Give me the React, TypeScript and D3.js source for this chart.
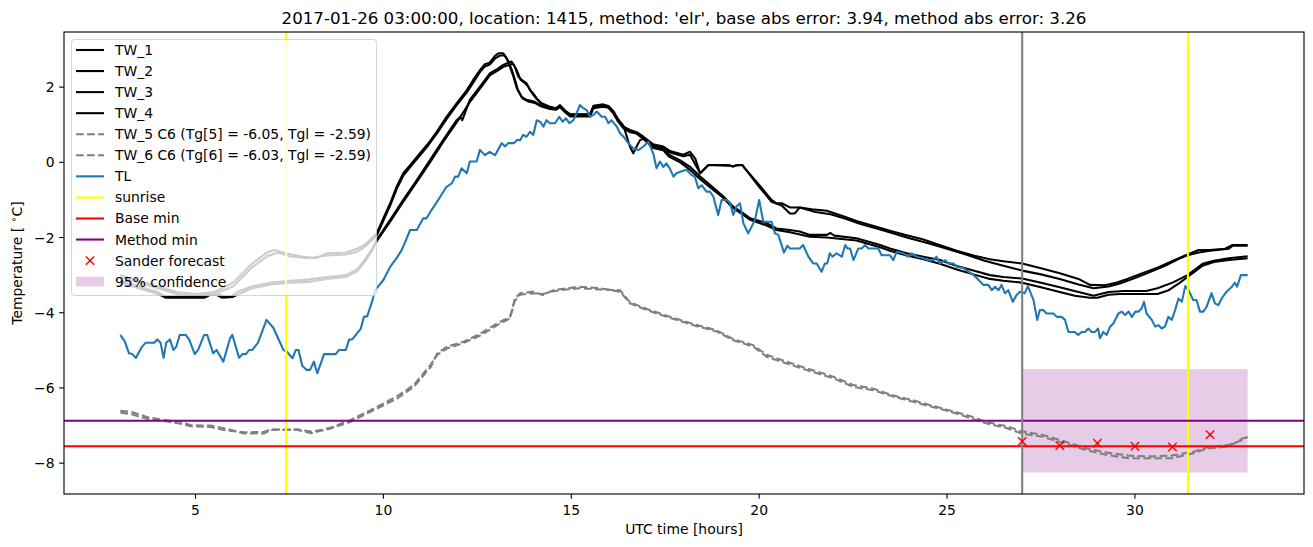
import React from "react";
import * as d3 from "d3";

type P = [number, number];

const titleText =
  "2017-01-26 03:00:00, location: 1415, method: 'elr', base abs error: 3.94, method abs error: 3.26";
const xTicks = [5, 10, 15, 20, 25, 30];
const yTicks = [-8, -6, -4, -2, 0, 2];
const xDomain: P = [1.5, 34.5];
const yDomain: P = [-8.82, 3.465];

const tw1: P[] = [[3,-3.0],[3.5,-3.15],[4,-3.3],[4.5,-3.45],[5,-3.5],[5.5,-3.45],[6,-3.2],[6.5,-2.7],[6.9,-2.4],[7.1,-2.33],[7.4,-2.42],[7.8,-2.5],[8.2,-2.55],[8.5,-2.42],[9.0,-2.4],[9.3,-2.3],[9.5,-2.2],[9.82,-1.89],[10.18,-1.09],[10.35,-0.65],[10.53,-0.29],[10.75,-0.03],[10.97,0.24],[11.2,0.51],[11.42,0.81],[11.68,1.21],[11.95,1.57],[12.22,1.92],[12.39,2.19],[12.57,2.45],[12.7,2.61],[12.83,2.65],[12.97,2.83],[13.06,2.9],[13.19,2.9],[13.28,2.77],[13.37,2.54],[13.46,2.28],[13.55,1.97],[13.68,1.74],[13.81,1.66],[14.03,1.61],[14.17,1.52],[14.43,1.45],[14.6,1.42],[14.7,1.5],[14.85,1.35],[14.97,1.26],[15.5,1.26],[15.59,1.48],[15.85,1.52],[15.99,1.48],[16.12,1.35],[16.25,1.12],[16.39,0.95],[16.56,0.86],[16.74,0.8],[16.92,0.68],[17.18,0.48],[17.45,0.42],[17.63,0.3],[17.98,0.2],[18.16,0.28],[18.3,0.1],[18.43,-0.29],[18.65,-0.07],[19.2,-0.07],[19.3,-0.12],[19.4,-0.07],[19.55,-0.07],[19.62,-0.16],[20.0,-0.6],[20.33,-1.0],[20.46,-1.09],[20.6,-1.09],[20.82,-1.2],[21.08,-1.2],[21.4,-1.25],[21.8,-1.29],[22.2,-1.42],[22.59,-1.56],[23.0,-1.68],[23.48,-1.82],[23.9,-1.93],[24.37,-2.05],[24.8,-2.2],[25.26,-2.35],[25.7,-2.48],[26.14,-2.58],[26.5,-2.63],[27,-2.69],[27.5,-2.82],[28,-2.95],[28.5,-3.1],[28.8,-3.26],[29.2,-3.27],[29.5,-3.2],[29.8,-3.1],[30.2,-2.95],[30.6,-2.8],[31.0,-2.62],[31.4,-2.45],[31.7,-2.33],[32.0,-2.33],[32.4,-2.3],[32.6,-2.2],[33,-2.2]];

const tw2: P[] = [[3,-3.05],[3.5,-3.2],[4,-3.35],[4.5,-3.5],[5,-3.55],[5.5,-3.5],[6,-3.3],[6.5,-2.8],[6.9,-2.5],[7.2,-2.4],[7.5,-2.5],[8.0,-2.55],[8.5,-2.48],[9.0,-2.45],[9.3,-2.38],[9.5,-2.25],[9.82,-1.95],[10.18,-1.15],[10.35,-0.72],[10.53,-0.35],[10.75,-0.08],[10.97,0.18],[11.2,0.46],[11.42,0.76],[11.68,1.15],[11.95,1.52],[12.22,1.86],[12.39,2.12],[12.57,2.4],[12.7,2.55],[12.83,2.6],[12.97,2.76],[13.1,2.84],[13.22,2.84],[13.32,2.7],[13.42,2.45],[13.5,2.2],[13.58,1.92],[13.7,1.7],[13.85,1.62],[14.03,1.58],[14.17,1.5],[14.43,1.42],[14.6,1.4],[14.7,1.47],[14.85,1.32],[14.97,1.22],[15.5,1.22],[15.59,1.44],[15.85,1.48],[15.99,1.45],[16.12,1.3],[16.25,1.08],[16.39,0.9],[16.56,0.8],[16.74,0.78],[16.92,0.64],[17.18,0.44],[17.45,0.38],[17.63,0.26],[17.98,0.16],[18.16,0.2],[18.43,-0.29],[18.65,-0.07],[19.3,-0.1],[19.55,-0.07],[19.62,-0.16],[20.0,-0.65],[20.33,-1.05],[20.6,-1.15],[20.82,-1.36],[20.95,-1.36],[21.08,-1.2],[21.5,-1.32],[21.9,-1.38],[22.3,-1.5],[22.7,-1.64],[23.2,-1.78],[23.6,-1.9],[24.0,-2.02],[24.5,-2.15],[25.0,-2.3],[25.5,-2.45],[26.0,-2.62],[26.5,-2.75],[27,-2.88],[27.5,-2.98],[28,-3.1],[28.5,-3.25],[28.9,-3.35],[29.3,-3.3],[29.6,-3.22],[30.0,-3.08],[30.4,-2.92],[30.8,-2.75],[31.2,-2.55],[31.4,-2.47],[31.7,-2.4],[32.0,-2.35],[32.5,-2.3],[32.6,-2.22],[33,-2.22]];

const tw3: P[] = [[3,-3.15],[3.5,-3.3],[4,-3.45],[4.2,-3.57],[5.2,-3.57],[5.35,-3.5],[5.6,-3.5],[5.75,-3.57],[5.95,-3.57],[6.1,-3.45],[6.5,-3.3],[7,-3.2],[7.5,-3.15],[8.0,-3.12],[8.5,-3.05],[9.0,-3.0],[9.3,-2.85],[9.5,-2.6],[9.7,-2.3],[9.82,-2.07],[10.18,-1.53],[10.53,-1.0],[10.89,-0.47],[11.24,0.06],[11.59,0.59],[11.95,1.12],[12.05,1.2],[12.1,1.12],[12.3,1.66],[12.57,2.01],[12.84,2.37],[13.06,2.5],[13.19,2.59],[13.28,2.63],[13.41,2.68],[13.5,2.54],[13.59,2.28],[13.68,2.19],[13.81,2.1],[13.9,1.92],[13.99,1.83],[14.08,1.7],[14.21,1.57],[14.43,1.48],[14.6,1.44],[14.7,1.52],[14.85,1.36],[14.97,1.28],[15.5,1.28],[15.59,1.5],[15.85,1.54],[15.99,1.5],[16.12,1.36],[16.25,1.14],[16.39,0.97],[16.56,0.42],[16.65,0.24],[16.74,0.42],[16.83,0.59],[16.96,0.64],[17.18,0.42],[17.45,0.37],[17.6,0.2],[17.9,0.05],[18.16,-0.12],[18.43,-0.38],[18.69,-0.6],[19.05,-0.91],[19.31,-1.18],[19.58,-1.36],[19.76,-1.49],[20.2,-1.62],[20.46,-1.76],[20.82,-1.8],[21.08,-1.84],[21.35,-1.93],[21.8,-1.93],[21.9,-1.88],[22.0,-1.95],[22.59,-2.02],[23.22,-2.2],[23.48,-2.29],[23.93,-2.42],[24.37,-2.51],[24.81,-2.6],[25.26,-2.76],[25.7,-2.88],[26.14,-3.0],[26.5,-3.05],[27,-3.09],[27.5,-3.2],[28,-3.32],[28.5,-3.45],[28.9,-3.55],[29.3,-3.45],[29.7,-3.42],[30.3,-3.42],[30.6,-3.35],[31.0,-3.2],[31.4,-3.0],[31.6,-2.85],[31.8,-2.7],[32.1,-2.62],[32.5,-2.55],[33,-2.5]];

const tw4: P[] = [[3,-3.2],[3.5,-3.35],[4,-3.5],[4.2,-3.6],[5.25,-3.6],[5.4,-3.52],[5.55,-3.52],[5.7,-3.6],[6.0,-3.58],[6.2,-3.48],[6.5,-3.35],[7,-3.25],[7.5,-3.2],[8.0,-3.18],[8.5,-3.1],[9.0,-3.05],[9.3,-2.9],[9.5,-2.65],[9.7,-2.35],[9.82,-2.1],[10.18,-1.58],[10.53,-1.05],[10.89,-0.52],[11.24,0.0],[11.59,0.54],[11.95,1.06],[12.3,1.6],[12.57,1.96],[12.84,2.32],[13.06,2.45],[13.19,2.54],[13.32,2.58],[13.45,2.62],[13.55,2.45],[13.65,2.2],[13.75,2.12],[13.85,2.02],[13.95,1.85],[14.1,1.66],[14.21,1.55],[14.43,1.46],[14.6,1.43],[14.7,1.5],[14.85,1.34],[14.97,1.27],[15.5,1.27],[15.59,1.46],[15.85,1.5],[15.99,1.47],[16.12,1.33],[16.25,1.1],[16.39,0.93],[16.56,0.82],[16.74,0.76],[16.92,0.62],[17.18,0.38],[17.45,0.32],[17.6,0.15],[17.9,0.0],[18.16,-0.2],[18.43,-0.45],[18.69,-0.66],[19.05,-0.95],[19.31,-1.22],[19.58,-1.4],[19.76,-1.53],[20.2,-1.68],[20.46,-1.8],[20.82,-1.86],[21.35,-1.98],[21.8,-2.0],[22.59,-2.08],[23.22,-2.26],[23.48,-2.35],[23.93,-2.48],[24.37,-2.58],[24.81,-2.7],[25.26,-2.85],[25.7,-2.98],[26.14,-3.1],[26.5,-3.15],[27,-3.2],[27.5,-3.32],[28,-3.45],[28.4,-3.55],[28.8,-3.6],[29.0,-3.6],[29.3,-3.52],[29.6,-3.5],[30.6,-3.5],[30.9,-3.4],[31.2,-3.2],[31.4,-3.05],[31.6,-2.9],[31.8,-2.75],[32.1,-2.65],[32.5,-2.6],[33,-2.55]];

const tw5: P[] = [[3.0,-6.61],[3.3,-6.64],[3.7,-6.77],[4.16,-6.85],[4.6,-6.9],[4.87,-6.99],[5.4,-7.0],[5.76,-7.07],[6.29,-7.21],[6.82,-7.21],[7.0,-7.12],[7.71,-7.1],[8.07,-7.16],[8.33,-7.12],[8.6,-7.05],[8.86,-6.99],[9.13,-6.9],[9.48,-6.72],[9.93,-6.5],[10.37,-6.28],[10.81,-5.97],[11.26,-5.44],[11.43,-5.08],[11.7,-4.9],[12.14,-4.77],[12.59,-4.55],[13.03,-4.28],[13.37,-4.11],[13.5,-3.62],[13.64,-3.48],[13.99,-3.44],[14.24,-3.53],[14.52,-3.4],[14.88,-3.35],[15.23,-3.31],[15.76,-3.35],[16.3,-3.44],[16.56,-3.75],[17.01,-3.93],[17.54,-4.11],[18.25,-4.33],[18.87,-4.5],[19.31,-4.73],[19.84,-4.9],[20.2,-5.17],[20.73,-5.35],[21.26,-5.52],[21.97,-5.74],[22.5,-5.97],[23.04,-6.06],[23.57,-6.23],[24.1,-6.37],[24.6,-6.5],[25.08,-6.63],[25.65,-6.81],[26.03,-6.94],[26.6,-7.07],[26.98,-7.21],[27.55,-7.3],[28.12,-7.47],[28.69,-7.65],[29.26,-7.78],[29.83,-7.87],[30.4,-7.87],[30.97,-7.87],[31.54,-7.74],[31.92,-7.61],[32.49,-7.56],[32.87,-7.34],[33.0,-7.3]];

const tw6: P[] = [[3.0,-6.66],[3.3,-6.7],[3.7,-6.82],[4.16,-6.88],[4.6,-6.95],[4.87,-7.02],[5.4,-7.04],[5.76,-7.12],[6.29,-7.18],[6.82,-7.17],[7.0,-7.1],[7.71,-7.12],[8.07,-7.2],[8.33,-7.14],[8.6,-7.08],[8.86,-6.95],[9.13,-6.85],[9.48,-6.68],[9.93,-6.45],[10.37,-6.22],[10.81,-5.92],[11.26,-5.38],[11.43,-5.12],[11.7,-4.95],[12.14,-4.8],[12.59,-4.6],[13.03,-4.33],[13.37,-4.15],[13.5,-3.68],[13.64,-3.52],[13.99,-3.48],[14.24,-3.5],[14.52,-3.43],[14.88,-3.38],[15.23,-3.35],[15.76,-3.38],[16.3,-3.4],[16.56,-3.72],[17.01,-3.9],[17.54,-4.08],[18.25,-4.3],[18.87,-4.47],[19.31,-4.7],[19.84,-4.86],[20.2,-5.12],[20.73,-5.3],[21.26,-5.48],[21.97,-5.7],[22.5,-5.92],[23.04,-6.02],[23.57,-6.2],[24.1,-6.33],[24.6,-6.47],[25.08,-6.6],[25.65,-6.76],[26.03,-6.9],[26.6,-7.02],[26.98,-7.15],[27.55,-7.25],[28.12,-7.42],[28.69,-7.6],[29.26,-7.72],[29.83,-7.8],[30.4,-7.82],[30.97,-7.8],[31.54,-7.7],[31.92,-7.58],[32.49,-7.52],[32.87,-7.38],[33.0,-7.3]];

const tl: P[] = [[3.0,-4.59],[3.12,-4.77],[3.23,-5.08],[3.32,-5.10],[3.41,-5.20],[3.58,-4.90],[3.67,-4.80],[3.90,-4.80],[3.98,-4.71],[4.07,-4.80],[4.15,-5.20],[4.22,-4.80],[4.32,-4.71],[4.41,-4.99],[4.49,-4.90],[4.58,-4.59],[4.74,-4.59],[4.83,-4.71],[4.98,-5.10],[5.07,-4.99],[5.23,-4.59],[5.31,-4.59],[5.47,-5.08],[5.56,-4.99],[5.74,-5.30],[5.92,-4.68],[5.98,-4.59],[6.16,-5.20],[6.25,-5.10],[6.34,-5.10],[6.43,-4.99],[6.51,-4.99],[6.66,-4.80],[6.89,-4.19],[7.07,-4.40],[7.34,-4.99],[7.43,-5.03],[7.58,-5.21],[7.67,-4.99],[7.74,-4.99],[7.84,-5.41],[7.96,-5.52],[8.05,-5.52],[8.15,-5.30],[8.24,-5.61],[8.42,-5.10],[8.73,-5.10],[8.82,-4.99],[9.0,-4.99],[9.09,-4.71],[9.17,-4.71],[9.40,-4.42],[9.48,-4.11],[9.57,-4.09],[9.70,-3.70],[9.78,-3.40],[10.0,-3.13],[10.18,-2.78],[10.35,-2.55],[10.49,-2.33],[10.62,-2.02],[10.71,-1.80],[10.89,-1.80],[11.06,-1.49],[11.15,-1.49],[11.28,-1.27],[11.46,-1.00],[11.68,-0.65],[11.82,-0.56],[11.91,-0.38],[11.99,-0.38],[12.08,-0.16],[12.22,-0.29],[12.30,0.02],[12.48,0.02],[12.57,0.33],[12.70,0.19],[12.83,0.28],[12.97,0.19],[13.15,0.51],[13.24,0.42],[13.32,0.51],[13.48,0.51],[13.55,0.59],[13.64,0.59],[13.72,0.73],[13.81,0.68],[13.90,0.81],[13.99,0.73],[14.08,1.12],[14.17,1.08],[14.26,0.95],[14.34,1.12],[14.43,1.04],[14.57,1.04],[14.68,1.21],[14.77,1.08],[14.86,1.17],[14.95,1.04],[15.06,1.12],[15.14,1.30],[15.23,1.52],[15.32,1.44],[15.41,1.39],[15.50,1.21],[15.59,1.26],[15.68,1.35],[15.81,1.21],[15.90,1.21],[15.99,1.04],[16.07,1.12],[16.21,0.95],[16.30,0.77],[16.39,0.68],[16.52,0.51],[16.65,0.37],[16.79,0.33],[16.92,0.42],[17.05,0.55],[17.18,0.24],[17.27,-0.16],[17.36,0.02],[17.45,-0.12],[17.53,-0.03],[17.62,-0.16],[17.72,-0.38],[17.80,-0.29],[17.94,-0.24],[18.07,-0.20],[18.20,-0.34],[18.29,-0.38],[18.38,-0.69],[18.47,-0.61],[18.60,-0.78],[18.69,-0.78],[18.78,-0.91],[18.91,-1.40],[19.0,-1.00],[19.14,-1.00],[19.23,-1.09],[19.31,-1.40],[19.40,-1.17],[19.49,-1.09],[19.58,-1.62],[19.71,-1.89],[19.80,-1.71],[19.89,-1.53],[20.0,-1.00],[20.11,-1.58],[20.33,-1.58],[20.42,-1.89],[20.51,-1.93],[20.66,-2.40],[20.75,-2.22],[20.82,-2.29],[21.08,-2.29],[21.17,-2.20],[21.31,-2.51],[21.44,-2.69],[21.53,-2.69],[21.66,-2.91],[21.75,-2.69],[21.81,-2.69],[21.88,-2.42],[21.95,-2.51],[22.06,-2.42],[22.20,-2.51],[22.29,-2.20],[22.35,-2.29],[22.42,-2.29],[22.51,-2.60],[22.64,-2.29],[22.73,-2.29],[22.82,-2.20],[22.91,-2.29],[23.17,-2.29],[23.26,-2.47],[23.48,-2.47],[23.57,-2.60],[23.66,-2.38],[23.84,-2.42],[23.97,-2.51],[24.06,-2.42],[24.19,-2.51],[24.37,-2.55],[24.50,-2.60],[24.64,-2.60],[24.72,-2.51],[24.81,-2.69],[24.95,-2.60],[25.03,-2.69],[25.17,-2.69],[25.26,-2.78],[25.44,-2.82],[25.57,-2.91],[25.70,-2.99],[25.84,-3.13],[25.97,-3.26],[26.10,-3.26],[26.19,-3.40],[26.28,-3.31],[26.37,-3.40],[26.45,-3.26],[26.54,-3.48],[26.63,-3.40],[26.75,-3.71],[26.85,-3.53],[26.94,-3.44],[27.07,-3.48],[27.15,-3.29],[27.30,-3.66],[27.40,-4.19],[27.47,-3.93],[27.56,-3.93],[27.65,-4.02],[27.83,-4.02],[27.92,-4.11],[28.05,-4.11],[28.14,-4.19],[28.23,-4.51],[28.40,-4.51],[28.49,-4.59],[28.58,-4.51],[28.67,-4.51],[28.76,-4.42],[28.85,-4.51],[28.94,-4.51],[29.02,-4.42],[29.07,-4.68],[29.16,-4.51],[29.25,-4.59],[29.34,-4.37],[29.43,-4.28],[29.56,-4.02],[29.65,-3.97],[29.74,-4.06],[29.83,-3.97],[29.92,-4.11],[30.01,-3.97],[30.10,-3.97],[30.18,-3.88],[30.24,-3.71],[30.31,-4.02],[30.45,-4.19],[30.54,-4.37],[30.63,-4.33],[30.71,-4.42],[30.80,-4.37],[30.89,-4.11],[30.98,-4.19],[31.07,-3.93],[31.16,-3.62],[31.25,-3.71],[31.34,-3.29],[31.43,-3.40],[31.55,-3.66],[31.64,-3.66],[31.73,-3.97],[31.82,-3.97],[31.91,-3.84],[32.04,-3.48],[32.13,-3.75],[32.22,-3.80],[32.31,-3.62],[32.44,-3.44],[32.58,-3.31],[32.66,-3.20],[32.72,-3.31],[32.82,-3.00],[32.93,-3.00],[33.0,-3.00]];

const sunriseHours = [7.41, 31.41];
const baseMin = -7.55;
const methodMin = -6.87;
const forecastStart = 27;
const sanderHours = [27, 28, 29, 30, 31, 32];
const sanderTemps = [-7.42, -7.53, -7.47, -7.55, -7.57, -7.24];
const confHours: P = [27, 33];
const confTemps: P = [-8.25, -5.5];

const legendLabels = [
  "TW_1", "TW_2", "TW_3", "TW_4",
  "TW_5 C6 (Tg[5] = -6.05, Tgl = -2.59)",
  "TW_6 C6 (Tg[6] = -6.03, Tgl = -2.59)",
  "TL", "sunrise", "Base min", "Method min", "Sander forecast", "95% confidence",
];

const FONT = "DejaVu Sans, sans-serif";
const BLUE = "#1f77b4";
const LW = 2.08;

export default function App() {
  const W = 1313, H = 547;
  const x = d3.scaleLinear().domain(xDomain).range([64, 1304]);
  const y = d3.scaleLinear().domain(yDomain).range([494, 32]);
  const line = d3.line<P>().x((d) => x(d[0])).y((d) => y(d[1]));
  const [x0, x1] = x.range();
  const [y0, y1] = y.range();
  const minus = (v: number) => String(v).replace("-", "\u2212");

  const dash = "7.7 3.33";
  const legendStyles: { kind: string; color: string; dash?: string }[] = [
    { kind: "line", color: "black" },
    { kind: "line", color: "black" },
    { kind: "line", color: "black" },
    { kind: "line", color: "black" },
    { kind: "line", color: "gray", dash },
    { kind: "line", color: "gray", dash },
    { kind: "line", color: BLUE },
    { kind: "line", color: "yellow" },
    { kind: "line", color: "red" },
    { kind: "line", color: "purple" },
    { kind: "marker", color: "red" },
    { kind: "patch", color: "purple" },
  ];

  const xMark = (cx: number, cy: number, key: string | number) => (
    <g key={key} stroke="red" strokeWidth={1.4}>
      <line x1={cx - 4.17} y1={cy - 4.17} x2={cx + 4.17} y2={cy + 4.17} />
      <line x1={cx - 4.17} y1={cy + 4.17} x2={cx + 4.17} y2={cy - 4.17} />
    </g>
  );

  const legX = 71.5, legY = 39.5, legW = 305, legH = 256;
  const rowY = (i: number) => 50 + i * 21.06;

  return (
    <div style={{ position: "absolute", left: 0, top: 0 }}>
      <svg width={W} height={H} style={{ display: "block", background: "white" }} fontFamily={FONT}>
        <text x={(x0 + x1) / 2} y={24} textAnchor="middle" fontSize={16.67} fill="black">
          {titleText}
        </text>
        <defs>
          <clipPath id="ax">
            <rect x={x0} y={y1} width={x1 - x0} height={y0 - y1} />
          </clipPath>
        </defs>
        <g clipPath="url(#ax)">
          <rect
            x={x(confHours[0])}
            y={y(confTemps[1])}
            width={x(confHours[1]) - x(confHours[0])}
            height={y(confTemps[0]) - y(confTemps[1])}
            fill="purple"
            fillOpacity={0.2}
          />
          {[tw1, tw2, tw3, tw4].map((s, i) => (
            <path key={i} d={line(s) || ""} fill="none" stroke="black" strokeWidth={LW} strokeLinejoin="round" />
          ))}
          {[tw5, tw6].map((s, i) => (
            <path key={i} d={line(s) || ""} fill="none" stroke="gray" strokeWidth={LW} strokeDasharray={dash} />
          ))}
          <path d={line(tl) || ""} fill="none" stroke={BLUE} strokeWidth={LW} strokeLinejoin="round" />
          {sunriseHours.map((h, i) => (
            <line key={i} x1={x(h)} x2={x(h)} y1={y0} y2={y1} stroke="yellow" strokeWidth={LW} />
          ))}
          <line x1={x0} x2={x1} y1={y(baseMin)} y2={y(baseMin)} stroke="red" strokeWidth={LW} />
          <line x1={x0} x2={x1} y1={y(methodMin)} y2={y(methodMin)} stroke="purple" strokeWidth={LW} />
          <line x1={x(forecastStart)} x2={x(forecastStart)} y1={y0} y2={y1} stroke="gray" strokeWidth={LW} />
          {sanderHours.map((h, i) => xMark(x(h), y(sanderTemps[i]), i))}
        </g>

        <rect x={x0} y={y1} width={x1 - x0} height={y0 - y1} fill="none" stroke="black" strokeWidth={1.11} />
        {xTicks.map((t) => (
          <g key={t}>
            <line x1={x(t)} x2={x(t)} y1={y0} y2={y0 + 4.86} stroke="black" strokeWidth={1.11} />
            <text x={x(t)} y={515} textAnchor="middle" fontSize={13.9}>{minus(t)}</text>
          </g>
        ))}
        {yTicks.map((t) => (
          <g key={t}>
            <line x1={x0 - 4.86} x2={x0} y1={y(t)} y2={y(t)} stroke="black" strokeWidth={1.11} />
            <text x={54.5} y={y(t) + 5} textAnchor="end" fontSize={13.9}>{minus(t)}</text>
          </g>
        ))}
        <text x={(x0 + x1) / 2} y={534} textAnchor="middle" fontSize={13.9}>UTC time [hours]</text>
        <text transform={`translate(22,${(y0 + y1) / 2}) rotate(-90)`} textAnchor="middle" fontSize={13.9}>
          Temperature [ <tspan fontSize={9.7} dy={-5}>{"\u2218"}</tspan><tspan dy={5}>C]</tspan>
        </text>

        <rect x={legX} y={legY} width={legW} height={legH} rx={3} ry={3} fill="white" fillOpacity={0.8} stroke="#cccccc" strokeOpacity={0.8} strokeWidth={1} />
        {legendLabels.map((lab, i) => {
          const st = legendStyles[i];
          const cy = rowY(i);
          return (
            <g key={lab}>
              {st.kind === "line" && (
                <line x1={76} x2={104} y1={cy} y2={cy} stroke={st.color} strokeWidth={LW} strokeDasharray={st.dash} />
              )}
              {st.kind === "marker" && xMark(90, cy, "m")}
              {st.kind === "patch" && (
                <rect x={76} y={cy - 4.9} width={28} height={9.7} fill={st.color} fillOpacity={0.2} />
              )}
              <text x={115} y={cy + 5} fontSize={13.9}>{lab}</text>
            </g>
          );
        })}
      </svg>
    </div>
  );
}
